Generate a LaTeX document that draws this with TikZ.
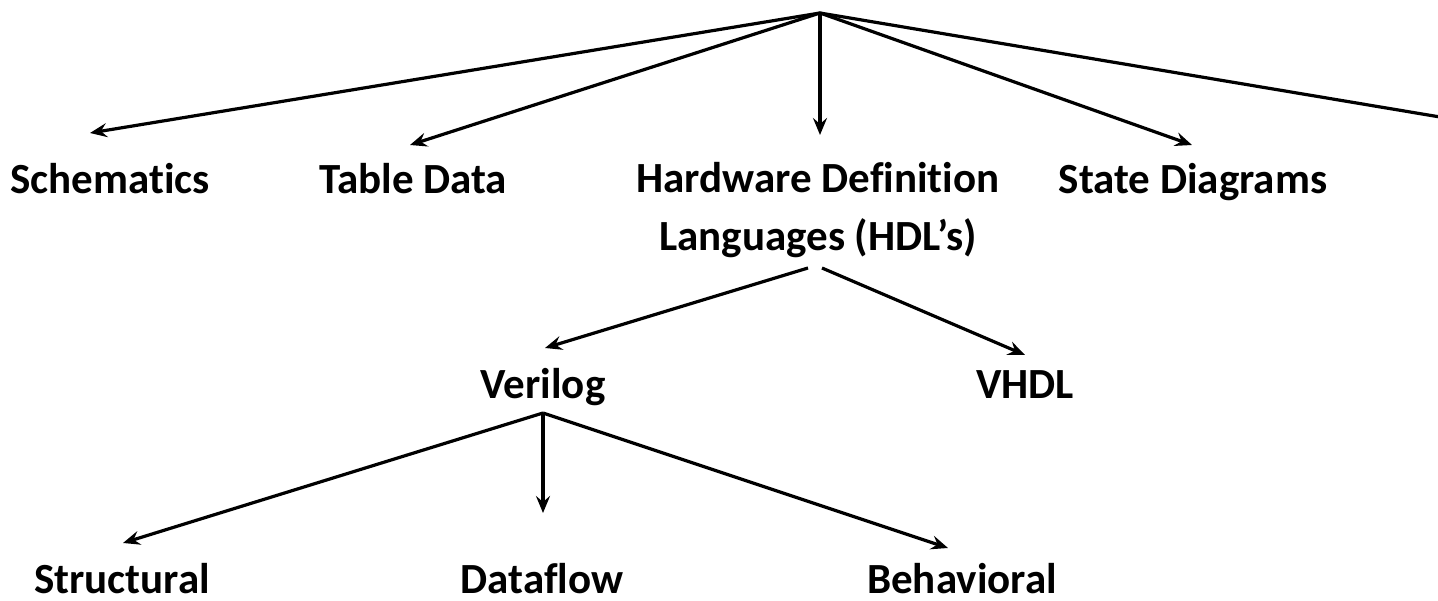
\documentclass[tikz,border=0pt]{standalone}
\usepackage{fontspec}
\setmainfont[Ligatures=NoCommon]{Carlito}
\usetikzlibrary{arrows.meta}
\tikzset{
  lbl/.style={font=\fontsize{43}{58}\selectfont\bfseries, inner sep=0pt, anchor=base, align=center},
  conn/.style={line width=3.2pt, -{Stealth[length=17pt,width=14pt,inset=6pt]}},
  plain/.style={line width=3.2pt}
}
\begin{document}
\begin{tikzpicture}[x=1pt,y=-1pt]
\useasboundingbox[fill=white] (0,0) rectangle (1438,601);
% labels
\node[lbl] (sch) at (110,194) {Schematics};
\node[lbl] (tab) at (413,194) {Table Data};
\node[lbl, anchor=north] (hdl) at (818,162) {Hardware Definition\\Languages (HDL’s)};
\node[lbl] (sta) at (1193,194) {State Diagrams};
\node[lbl] (ver) at (543,399) {Verilog};
\node[lbl] (vhd) at (1025,399) {VHDL};
\node[lbl] (str) at (122,593) {Structural};
\node[lbl] (dat) at (542,593) {Dataflow};
\node[lbl] (beh) at (962,593) {Behavioral};
% connector points
\coordinate (top) at (820,13);
\coordinate (schT) at (90,133);
\coordinate (tabT) at (410,145);
\coordinate (hdlT) at (820,135);
\coordinate (staT) at (1192,145);
\coordinate (off) at (1440,117);
\coordinate (hdlL) at (808,268);
\coordinate (hdlR) at (822,268);
\coordinate (verT) at (545,348);
\coordinate (vhdT) at (1025,355);
\coordinate (verB) at (543,413);
\coordinate (strT) at (123,543);
\coordinate (datT) at (543,513);
\coordinate (behT) at (948,548);
% connectors
\draw[conn] (top) -- (schT);
\draw[conn] (top) -- (tabT);
\draw[conn] (top) -- (hdlT);
\draw[conn] (top) -- (staT);
\draw[plain] (top) -- (off);
\draw[conn] (hdlL) -- (verT);
\draw[conn] (hdlR) -- (vhdT);
\draw[conn] (verB) -- (strT);
\draw[conn] (verB) -- (datT);
\draw[conn] (verB) -- (behT);
\end{tikzpicture}
\end{document}
